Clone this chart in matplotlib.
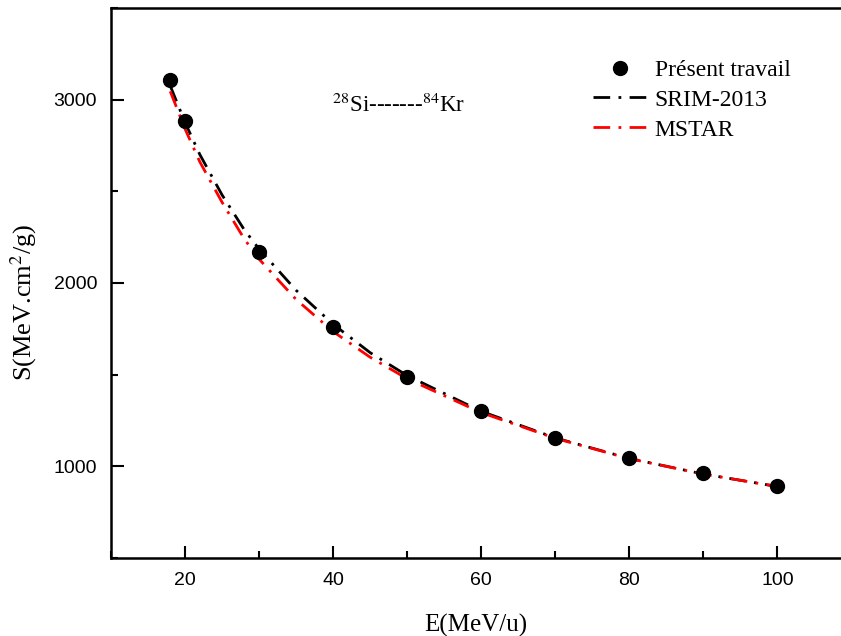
import numpy as np
import matplotlib.pyplot as plt
from matplotlib.ticker import MultipleLocator

plt.rcParams['mathtext.fontset'] = 'stix'

# measured points
E_exp = [18, 20, 30, 40, 50, 60, 70, 80, 90, 100]
S_exp = [3105, 2885, 2168, 1758, 1486, 1300, 1155, 1048, 962, 892]

# SRIM-2013 curve
E_srim = [18, 20, 22, 25, 28, 30, 35, 40, 45, 50, 60, 70, 80, 90, 100]
S_srim = [3075, 2875, 2700, 2480, 2290, 2185, 1960, 1775, 1620, 1495, 1300, 1155, 1043, 958, 890]

# MSTAR curve
E_mstar = [18, 20, 22, 25, 28, 30, 35, 40, 45, 50, 60, 70, 80, 90, 100]
S_mstar = [3045, 2840, 2660, 2440, 2240, 2130, 1910, 1735, 1595, 1478, 1293, 1153, 1042, 958, 890]

fig = plt.figure(figsize=(8.41, 6.36), dpi=100)
ax = fig.add_axes([0.132, 0.1226, 0.868, 0.865])

ax.plot(E_srim, S_srim, color='black', lw=2, linestyle=(0, (6, 3, 1, 3)), label='SRIM-2013')
ax.plot(E_mstar, S_mstar, color='red', lw=2, linestyle=(0, (6, 3, 1, 3)), label='MSTAR')
ax.plot(E_exp, S_exp, 'o', color='black', ms=10, label='Présent travail', zorder=5)

ax.set_xlim(10, 108.6)
ax.set_ylim(500, 3500)
ax.xaxis.set_major_locator(MultipleLocator(20))
ax.xaxis.set_minor_locator(MultipleLocator(10))
ax.yaxis.set_major_locator(MultipleLocator(1000))
ax.yaxis.set_minor_locator(MultipleLocator(500))
ax.tick_params(which='both', direction='in', width=1.5, labelsize=14, pad=10)
ax.tick_params(which='major', length=9)
ax.tick_params(which='minor', length=5)
for lab in ax.get_xticklabels() + ax.get_yticklabels():
    lab.set_family('Liberation Sans')
for s in ['left', 'bottom', 'top']:
    ax.spines[s].set_linewidth(1.8)
ax.spines['right'].set_visible(False)

ax.set_xlabel('E(MeV/u)', family='Liberation Serif', fontsize=18, labelpad=18)
ax.set_ylabel('S(MeV.cm$^{2}$/g)', family='Liberation Serif', fontsize=19)
ax.yaxis.set_label_coords(-0.098, 0.464)

ax.text(0.303, 0.811, r'$^{28}$Si-------$^{84}$Kr', transform=ax.transAxes,
        family='Liberation Serif', fontsize=16.5, va='baseline')

h, l = ax.get_legend_handles_labels()
ax.legend([h[2], h[0], h[1]], [l[2], l[0], l[1]], loc='upper right',
          bbox_to_anchor=(0.96, 0.945), frameon=False, handlelength=2.3,
          handletextpad=0.3, labelspacing=0.35,
          prop={'family': 'Liberation Serif', 'size': 17})

fig.savefig('out.png', dpi=100)
